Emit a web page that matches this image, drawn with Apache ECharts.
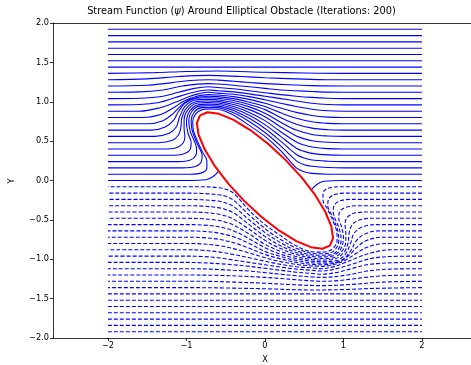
<!DOCTYPE html>
<html>
<head>
<meta charset="utf-8">
<script src="https://cdn.jsdelivr.net/npm/echarts@6/dist/echarts.min.js"></script>
<style>
  html, body { margin: 0; padding: 0; background: #fff; }
  #chart { width: 471px; height: 365px; }
</style>
</head>
<body>
<div id="chart"></div>
<script>
// contour levels that stay straight across the box
var flatLevels = [1.92, 1.84, 1.76, 1.68, 1.6, 1.52, 1.44, -1.44, -1.52, -1.6, -1.68, -1.76, -1.84, -1.92];
var xExtent = [-2, 2];

// psi = 0 contour, two pieces touching the obstacle
var zeroLeft = [[-2,0],[-1.0,0],[-0.75,0.01],[-0.66,0.05],[-0.59,0.12]];
var zeroRight = [[0.59,-0.12],[0.66,-0.05],[0.75,-0.01],[1.0,0],[2,0]];

// positive contours (solid)
var psiP1 = [[-2,0.08],[-0.95,0.08],[-0.8,0.1],[-0.74,0.16],[-0.74,0.25],[-0.8,0.37],[-0.86,0.5],[-0.91,0.63],[-0.92,0.75],[-0.88,0.85],[-0.8,0.9],[-0.72,0.91],[-0.6,0.905],[-0.4,0.83],[-0.2,0.7],[0,0.56],[0.2,0.38],[0.4,0.16],[0.5,0.11],[0.6,0.09],[0.8,0.08],[2,0.08]];
var psiP2 = [[-2,0.16],[-1.05,0.16],[-0.88,0.18],[-0.81,0.24],[-0.8,0.32],[-0.84,0.42],[-0.89,0.53],[-0.93,0.65],[-0.94,0.76],[-0.9,0.87],[-0.81,0.925],[-0.72,0.93],[-0.6,0.925],[-0.4,0.86],[-0.2,0.75],[0,0.61],[0.2,0.44],[0.4,0.25],[0.5,0.2],[0.6,0.18],[0.8,0.165],[1.0,0.16],[2,0.16]];
var psiP3 = [[-2,0.24],[-1.1,0.24],[-0.95,0.26],[-0.88,0.32],[-0.87,0.4],[-0.9,0.5],[-0.95,0.62],[-0.97,0.75],[-0.93,0.88],[-0.83,0.945],[-0.72,0.95],[-0.6,0.945],[-0.4,0.89],[-0.2,0.79],[0,0.66],[0.2,0.5],[0.4,0.33],[0.5,0.285],[0.6,0.26],[0.8,0.245],[1.0,0.24],[2,0.24]];
var psiP4 = [[-2,0.32],[-1.2,0.32],[-1.03,0.34],[-0.95,0.4],[-0.94,0.48],[-0.98,0.6],[-1.0,0.73],[-0.96,0.88],[-0.85,0.96],[-0.72,0.97],[-0.6,0.965],[-0.4,0.915],[-0.2,0.83],[0,0.71],[0.2,0.56],[0.4,0.41],[0.5,0.37],[0.6,0.345],[0.8,0.325],[1.0,0.32],[2,0.32]];
var psiP5 = [[-2,0.4],[-1.3,0.4],[-1.12,0.42],[-1.04,0.48],[-1.02,0.56],[-1.03,0.66],[-1.03,0.77],[-0.98,0.9],[-0.87,0.98],[-0.72,0.99],[-0.6,0.985],[-0.4,0.94],[-0.2,0.865],[0,0.76],[0.2,0.62],[0.4,0.49],[0.5,0.45],[0.6,0.425],[0.8,0.405],[1.0,0.4],[2,0.4]];
var psiP6 = [[-2,0.48],[-1.35,0.48],[-1.18,0.51],[-1.1,0.58],[-1.07,0.68],[-1.06,0.79],[-1.0,0.92],[-0.88,1.0],[-0.72,1.01],[-0.6,1.005],[-0.4,0.965],[-0.2,0.9],[0,0.81],[0.2,0.68],[0.4,0.565],[0.5,0.53],[0.6,0.505],[0.8,0.485],[1.0,0.48],[2,0.48]];
var psiP7 = [[-2,0.56],[-1.4,0.56],[-1.22,0.6],[-1.13,0.68],[-1.09,0.8],[-1.02,0.94],[-0.9,1.02],[-0.72,1.03],[-0.6,1.025],[-0.4,0.99],[-0.2,0.935],[0,0.855],[0.2,0.74],[0.4,0.64],[0.6,0.585],[0.8,0.565],[1.0,0.56],[2,0.56]];
var psiP8 = [[-2,0.64],[-1.45,0.64],[-1.27,0.68],[-1.16,0.77],[-1.1,0.88],[-1.02,0.98],[-0.9,1.04],[-0.72,1.05],[-0.6,1.045],[-0.4,1.015],[-0.2,0.965],[0,0.9],[0.2,0.8],[0.4,0.715],[0.6,0.665],[0.8,0.645],[1.0,0.64],[2,0.64]];
var psiP9 = [[-2,0.72],[-1.5,0.72],[-1.3,0.76],[-1.17,0.85],[-1.07,0.95],[-0.95,1.03],[-0.72,1.07],[-0.6,1.065],[-0.4,1.04],[-0.2,0.995],[0,0.94],[0.2,0.86],[0.4,0.79],[0.6,0.745],[0.8,0.725],[1.0,0.72],[2,0.72]];
var psiP10 = [[-2,0.8],[-1.55,0.8],[-1.32,0.84],[-1.17,0.92],[-1.03,1.01],[-0.9,1.06],[-0.72,1.09],[-0.6,1.085],[-0.4,1.065],[-0.2,1.03],[0,0.98],[0.2,0.92],[0.4,0.865],[0.6,0.825],[0.8,0.805],[1.0,0.8],[2,0.8]];
var psiP11 = [[-2,0.88],[-1.6,0.88],[-1.35,0.92],[-1.15,0.99],[-0.98,1.06],[-0.85,1.1],[-0.72,1.12],[-0.6,1.11],[-0.4,1.095],[-0.2,1.065],[0,1.025],[0.2,0.98],[0.4,0.94],[0.6,0.905],[0.8,0.885],[1.0,0.88],[2,0.88]];
var psiP12 = [[-2,0.96],[-1.6,0.965],[-1.35,0.99],[-1.15,1.05],[-0.95,1.11],[-0.72,1.15],[-0.6,1.14],[-0.4,1.125],[-0.2,1.1],[0,1.07],[0.2,1.04],[0.4,1.01],[0.6,0.98],[0.8,0.965],[1.0,0.96],[2,0.96]];
var psiP13 = [[-2,1.04],[-1.6,1.045],[-1.3,1.07],[-1.1,1.12],[-0.9,1.17],[-0.72,1.19],[-0.6,1.18],[-0.4,1.165],[-0.2,1.14],[0,1.115],[0.2,1.09],[0.4,1.07],[0.6,1.055],[0.8,1.045],[1.0,1.04],[2,1.04]];
var psiP14 = [[-2,1.12],[-1.6,1.125],[-1.3,1.15],[-1.05,1.2],[-0.72,1.23],[-0.6,1.225],[-0.4,1.21],[-0.2,1.19],[0,1.17],[0.2,1.15],[0.4,1.14],[0.6,1.13],[0.8,1.122],[1.0,1.12],[2,1.12]];
var psiP15 = [[-2,1.2],[-1.5,1.21],[-1.2,1.24],[-0.95,1.27],[-0.72,1.28],[-0.6,1.275],[-0.4,1.26],[-0.2,1.245],[0,1.23],[0.3,1.215],[0.6,1.205],[1.0,1.2],[2,1.2]];
var psiP16 = [[-2,1.28],[-1.5,1.29],[-1.1,1.32],[-0.72,1.335],[-0.3,1.32],[0,1.305],[0.4,1.29],[0.8,1.28],[2,1.28]];
var psiP17 = [[-2,1.36],[-1.4,1.37],[-1.0,1.385],[-0.6,1.39],[0,1.375],[0.5,1.365],[1.0,1.36],[2,1.36]];

// negative contours (dashed)
var psiN1 = [[2,-0.08],[0.95,-0.08],[0.8,-0.1],[0.74,-0.16],[0.74,-0.25],[0.8,-0.37],[0.86,-0.5],[0.91,-0.63],[0.92,-0.75],[0.88,-0.85],[0.8,-0.9],[0.72,-0.91],[0.6,-0.905],[0.4,-0.83],[0.2,-0.7],[0,-0.56],[-0.2,-0.38],[-0.4,-0.16],[-0.5,-0.11],[-0.6,-0.09],[-0.8,-0.08],[-2,-0.08]];
var psiN2 = [[2,-0.16],[1.05,-0.16],[0.88,-0.18],[0.81,-0.24],[0.8,-0.32],[0.84,-0.42],[0.89,-0.53],[0.93,-0.65],[0.94,-0.76],[0.9,-0.87],[0.81,-0.925],[0.72,-0.93],[0.6,-0.925],[0.4,-0.86],[0.2,-0.75],[0,-0.61],[-0.2,-0.44],[-0.4,-0.25],[-0.5,-0.2],[-0.6,-0.18],[-0.8,-0.165],[-1.0,-0.16],[-2,-0.16]];
var psiN3 = [[2,-0.24],[1.1,-0.24],[0.95,-0.26],[0.88,-0.32],[0.87,-0.4],[0.9,-0.5],[0.95,-0.62],[0.97,-0.75],[0.93,-0.88],[0.83,-0.945],[0.72,-0.95],[0.6,-0.945],[0.4,-0.89],[0.2,-0.79],[0,-0.66],[-0.2,-0.5],[-0.4,-0.33],[-0.5,-0.285],[-0.6,-0.26],[-0.8,-0.245],[-1.0,-0.24],[-2,-0.24]];
var psiN4 = [[2,-0.32],[1.2,-0.32],[1.03,-0.34],[0.95,-0.4],[0.94,-0.48],[0.98,-0.6],[1.0,-0.73],[0.96,-0.88],[0.85,-0.96],[0.72,-0.97],[0.6,-0.965],[0.4,-0.915],[0.2,-0.83],[0,-0.71],[-0.2,-0.56],[-0.4,-0.41],[-0.5,-0.37],[-0.6,-0.345],[-0.8,-0.325],[-1.0,-0.32],[-2,-0.32]];
var psiN5 = [[2,-0.4],[1.3,-0.4],[1.12,-0.42],[1.04,-0.48],[1.02,-0.56],[1.03,-0.66],[1.03,-0.77],[0.98,-0.9],[0.87,-0.98],[0.72,-0.99],[0.6,-0.985],[0.4,-0.94],[0.2,-0.865],[0,-0.76],[-0.2,-0.62],[-0.4,-0.49],[-0.5,-0.45],[-0.6,-0.425],[-0.8,-0.405],[-1.0,-0.4],[-2,-0.4]];
var psiN6 = [[2,-0.48],[1.35,-0.48],[1.18,-0.51],[1.1,-0.58],[1.07,-0.68],[1.06,-0.79],[1.0,-0.92],[0.88,-1.0],[0.72,-1.01],[0.6,-1.005],[0.4,-0.965],[0.2,-0.9],[0,-0.81],[-0.2,-0.68],[-0.4,-0.565],[-0.5,-0.53],[-0.6,-0.505],[-0.8,-0.485],[-1.0,-0.48],[-2,-0.48]];
var psiN7 = [[2,-0.56],[1.4,-0.56],[1.22,-0.6],[1.13,-0.68],[1.09,-0.8],[1.02,-0.94],[0.9,-1.02],[0.72,-1.03],[0.6,-1.025],[0.4,-0.99],[0.2,-0.935],[0,-0.855],[-0.2,-0.74],[-0.4,-0.64],[-0.6,-0.585],[-0.8,-0.565],[-1.0,-0.56],[-2,-0.56]];
var psiN8 = [[2,-0.64],[1.45,-0.64],[1.27,-0.68],[1.16,-0.77],[1.1,-0.88],[1.02,-0.98],[0.9,-1.04],[0.72,-1.05],[0.6,-1.045],[0.4,-1.015],[0.2,-0.965],[0,-0.9],[-0.2,-0.8],[-0.4,-0.715],[-0.6,-0.665],[-0.8,-0.645],[-1.0,-0.64],[-2,-0.64]];
var psiN9 = [[2,-0.72],[1.5,-0.72],[1.3,-0.76],[1.17,-0.85],[1.07,-0.95],[0.95,-1.03],[0.72,-1.07],[0.6,-1.065],[0.4,-1.04],[0.2,-0.995],[0,-0.94],[-0.2,-0.86],[-0.4,-0.79],[-0.6,-0.745],[-0.8,-0.725],[-1.0,-0.72],[-2,-0.72]];
var psiN10 = [[2,-0.8],[1.55,-0.8],[1.32,-0.84],[1.17,-0.92],[1.03,-1.01],[0.9,-1.06],[0.72,-1.09],[0.6,-1.085],[0.4,-1.065],[0.2,-1.03],[0,-0.98],[-0.2,-0.92],[-0.4,-0.865],[-0.6,-0.825],[-0.8,-0.805],[-1.0,-0.8],[-2,-0.8]];
var psiN11 = [[2,-0.88],[1.6,-0.88],[1.35,-0.92],[1.15,-0.99],[0.98,-1.06],[0.85,-1.1],[0.72,-1.12],[0.6,-1.11],[0.4,-1.095],[0.2,-1.065],[0,-1.025],[-0.2,-0.98],[-0.4,-0.94],[-0.6,-0.905],[-0.8,-0.885],[-1.0,-0.88],[-2,-0.88]];
var psiN12 = [[2,-0.96],[1.6,-0.965],[1.35,-0.99],[1.15,-1.05],[0.95,-1.11],[0.72,-1.15],[0.6,-1.14],[0.4,-1.125],[0.2,-1.1],[0,-1.07],[-0.2,-1.04],[-0.4,-1.01],[-0.6,-0.98],[-0.8,-0.965],[-1.0,-0.96],[-2,-0.96]];
var psiN13 = [[2,-1.04],[1.6,-1.045],[1.3,-1.07],[1.1,-1.12],[0.9,-1.17],[0.72,-1.19],[0.6,-1.18],[0.4,-1.165],[0.2,-1.14],[0,-1.115],[-0.2,-1.09],[-0.4,-1.07],[-0.6,-1.055],[-0.8,-1.045],[-1.0,-1.04],[-2,-1.04]];
var psiN14 = [[2,-1.12],[1.6,-1.125],[1.3,-1.15],[1.05,-1.2],[0.72,-1.23],[0.6,-1.225],[0.4,-1.21],[0.2,-1.19],[0,-1.17],[-0.2,-1.15],[-0.4,-1.14],[-0.6,-1.13],[-0.8,-1.122],[-1.0,-1.12],[-2,-1.12]];
var psiN15 = [[2,-1.2],[1.5,-1.21],[1.2,-1.24],[0.95,-1.27],[0.72,-1.28],[0.6,-1.275],[0.4,-1.26],[0.2,-1.245],[0,-1.23],[-0.3,-1.215],[-0.6,-1.205],[-1.0,-1.2],[-2,-1.2]];
var psiN16 = [[2,-1.28],[1.5,-1.29],[1.1,-1.32],[0.72,-1.335],[0.3,-1.32],[0,-1.305],[-0.4,-1.29],[-0.8,-1.28],[-2,-1.28]];
var psiN17 = [[2,-1.36],[1.4,-1.37],[1.0,-1.385],[0.6,-1.39],[0,-1.375],[-0.5,-1.365],[-1.0,-1.36],[-2,-1.36]];

// obstacle outline (red), traced around the ellipse
var obstacle = [[-0.827,0.827],[-0.731,0.867],[-0.585,0.847],[-0.4,0.77],[-0.187,0.641],[0.039,0.467],[0.262,0.262],[0.467,0.039],[0.641,-0.187],[0.77,-0.4],[0.847,-0.585],[0.867,-0.731],[0.827,-0.827],[0.731,-0.867],[0.585,-0.847],[0.4,-0.77],[0.187,-0.641],[-0.039,-0.467],[-0.262,-0.262],[-0.467,-0.039],[-0.641,0.187],[-0.77,0.4],[-0.847,0.585],[-0.867,0.731],[-0.827,0.827]];

var xTicks = [-2, -1, 0, 1, 2];

var posLines = [zeroLeft, zeroRight, psiP1, psiP2, psiP3, psiP4, psiP5, psiP6, psiP7, psiP8, psiP9, psiP10, psiP11, psiP12, psiP13, psiP14, psiP15, psiP16, psiP17];
var negLines = [psiN1, psiN2, psiN3, psiN4, psiN5, psiN6, psiN7, psiN8, psiN9, psiN10, psiN11, psiN12, psiN13, psiN14, psiN15, psiN16, psiN17];

function minus(s) { return String(s).replace('-', '\u2212'); }

var series = [];
function addLine(pts, dashed) {
    series.push({
        type: 'line',
        data: pts,
        showSymbol: false,
        smooth: 0.35,
        silent: true,
        lineStyle: { color: '#0000ff', width: 1.1, type: dashed ? [4, 2] : 'solid' }
    });
}
posLines.forEach(function (l) { addLine(l, false); });
negLines.forEach(function (l) { addLine(l, true); });
flatLevels.forEach(function (v) {
    addLine([[xExtent[0], v], [xExtent[1], v]], v < 0);
});
series.push({
    type: 'line',
    data: obstacle,
    showSymbol: false,
    silent: true,
    z: 5,
    lineStyle: { color: '#ff0000', width: 2 }
});

var font = 'DejaVu Sans';
var chart = echarts.init(document.getElementById('chart'), null, { renderer: 'canvas' });
chart.setOption({
    animation: false,
    backgroundColor: '#fff',
    // axes box runs past the right edge of the picture
    grid: { left: 53, top: 23, right: 0, height: 315, containLabel: false },
    xAxis: [{
        type: 'value', min: -2.7, max: 2.625, position: 'bottom',
        axisLine: { show: true, onZero: false, lineStyle: { color: '#000', width: 0.8 } },
        axisTick: { show: true, inside: false, length: 3, customValues: xTicks, lineStyle: { color: '#000', width: 0.8 } },
        axisLabel: { customValues: xTicks, formatter: minus, color: '#000', fontFamily: font, fontSize: 8.2, margin: 4 },
        splitLine: { show: false }
    }, {
        type: 'value', min: -2.7, max: 2.625, position: 'top',
        axisLine: { show: true, onZero: false, lineStyle: { color: '#000', width: 0.8 } },
        axisTick: { show: false }, axisLabel: { show: false }, splitLine: { show: false }
    }],
    yAxis: {
        type: 'value', min: -2, max: 2, interval: 0.5,
        axisLine: { show: true, onZero: false, lineStyle: { color: '#000', width: 0.8 } },
        axisTick: { show: true, inside: false, length: 3, lineStyle: { color: '#000', width: 0.8 } },
        axisLabel: { formatter: function (v) { return minus(v.toFixed(1)); }, color: '#000', fontFamily: font, fontSize: 8.2, margin: 4 },
        splitLine: { show: false }
    },
    graphic: [
        { type: 'text', x: 241.5, y: 11, style: {
            text: '{n|Stream Function (}{i|\u03c8}{n|) Around Elliptical Obstacle (Iterations: 200)}',
            align: 'center', verticalAlign: 'middle',
            rich: { n: { fontFamily: font, fontSize: 9.8, fill: '#000' }, i: { fontFamily: font, fontSize: 9.8, fontStyle: 'italic', fill: '#000' } }
        } },
        { type: 'text', x: 265, y: 360, style: { text: 'X', font: '8.2px DejaVu Sans', fill: '#000', align: 'center', verticalAlign: 'middle' } },
        { type: 'text', x: 12, y: 181, rotation: Math.PI / 2, style: { text: 'Y', font: '8.2px DejaVu Sans', fill: '#000', align: 'center', verticalAlign: 'middle' } }
    ],
    series: series
});
</script>
</body>
</html>
